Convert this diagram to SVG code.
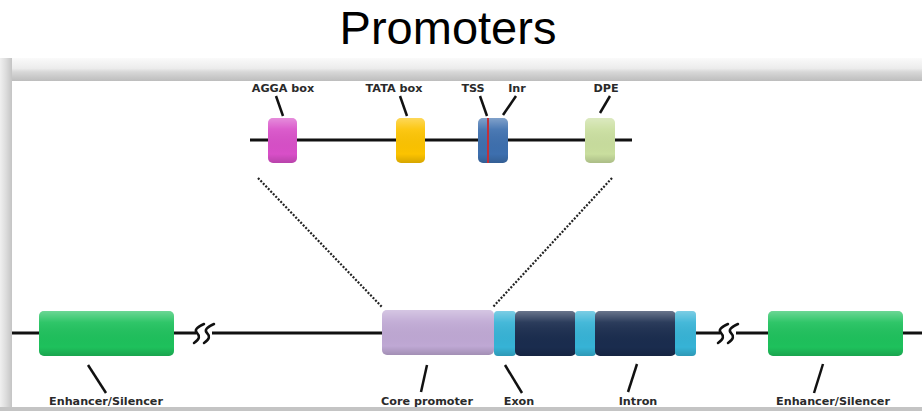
<svg xmlns="http://www.w3.org/2000/svg" width="922" height="411" viewBox="0 0 922 411">
<defs>
<linearGradient id="topband" x1="0" y1="0" x2="0" y2="1">
<stop offset="0" stop-color="#fafafa"/><stop offset="0.45" stop-color="#ececec"/><stop offset="0.6" stop-color="#d8d8d8"/><stop offset="1" stop-color="#bdbdbd"/>
</linearGradient>
<linearGradient id="leftband" x1="0" y1="0" x2="1" y2="0">
<stop offset="0" stop-color="#f0f0f0"/><stop offset="0.5" stop-color="#dcdcdc"/><stop offset="1" stop-color="#c4c4c4"/>
</linearGradient>
<linearGradient id="gloss" x1="0" y1="0" x2="0" y2="1">
<stop offset="0" stop-color="#fff" stop-opacity="0.35"/><stop offset="0.25" stop-color="#fff" stop-opacity="0.08"/><stop offset="0.8" stop-color="#000" stop-opacity="0"/><stop offset="1" stop-color="#000" stop-opacity="0.15"/>
</linearGradient>
<style>
.lbl{font-family:"DejaVu Sans",sans-serif;font-weight:bold;font-size:11.2px;fill:#2a2a2a;text-anchor:middle}
.ln{stroke:#111;stroke-width:3;fill:none}
.lead{stroke:#111;stroke-width:2.5;fill:none}
.brk{stroke:#111;stroke-width:2.5;fill:none;stroke-linecap:round}
.dot{stroke:#222;stroke-width:2.2;stroke-dasharray:2 1.6;fill:none}
.gl{fill:url(#gloss)}
</style>
</defs>
<rect width="922" height="411" fill="#fff"/>
<text x="448" y="44" font-family="Liberation Sans, Arial, sans-serif" font-size="47" text-anchor="middle" fill="#000">Promoters</text>
<g id="frame">
<rect x="0" y="58" width="922" height="23" fill="url(#topband)"/>
<rect x="0" y="58" width="12" height="353" fill="url(#leftband)"/>
<rect x="12" y="81" width="910" height="326" fill="#fff"/>
<rect x="0" y="407" width="922" height="4" fill="#c4c4c4"/>
</g>
<g id="connectors">
<line class="ln" x1="250" y1="140" x2="632" y2="140"/>
<line class="ln" x1="12" y1="333" x2="40" y2="333"/>
<line class="ln" x1="174" y1="333" x2="196" y2="333"/>
<line class="ln" x1="212" y1="333" x2="382" y2="333"/>
<line class="ln" x1="696" y1="333" x2="720" y2="333"/>
<line class="ln" x1="736" y1="333" x2="768" y2="333"/>
<line class="ln" x1="903" y1="333" x2="922" y2="333"/>
<path class="brk" d="M204,324 C197,327 194,330 197,333 C200,336 200,339 194,343 M214,324 C207,327 204,330 207,333 C210,336 210,339 204,343"/>
<path class="brk" d="M728,324 C721,327 718,330 721,333 C724,336 724,339 718,343 M738,324 C731,327 728,330 731,333 C734,336 734,339 728,343"/>
<line class="dot" x1="258" y1="178" x2="382" y2="307"/>
<line class="dot" x1="612" y1="178" x2="493" y2="307"/>
<line class="lead" x1="276" y1="96" x2="283" y2="116"/>
<line class="lead" x1="400" y1="96" x2="407" y2="116"/>
<line class="lead" x1="480" y1="96" x2="487" y2="116"/>
<line class="lead" x1="516" y1="96" x2="503" y2="115"/>
<line class="lead" x1="610" y1="96" x2="600" y2="113"/>
<line class="lead" x1="88" y1="365" x2="106" y2="393"/>
<line class="lead" x1="427" y1="365" x2="421" y2="392"/>
<line class="lead" x1="505" y1="365" x2="522" y2="393"/>
<line class="lead" x1="637" y1="364" x2="628" y2="392"/>
<line class="lead" x1="823" y1="364" x2="814" y2="393"/>
</g>
<g id="agga">
<rect x="268" y="118" width="29" height="45" rx="5" fill="#d84fc8"/><rect class="gl" x="268" y="118" width="29" height="45" rx="5"/>
<text class="lbl" x="283" y="92">AGGA box</text>
</g>
<g id="tata">
<rect x="396" y="118" width="29" height="45" rx="5" fill="#fcc300"/><rect class="gl" x="396" y="118" width="29" height="45" rx="5"/>
<text class="lbl" x="394" y="92">TATA box</text>
</g>
<g id="tss-inr">
<rect x="478" y="118" width="30" height="45" rx="5" fill="#3d6fae"/><rect class="gl" x="478" y="118" width="30" height="45" rx="5"/>
<line x1="488" y1="118" x2="488" y2="163" stroke="#c0303a" stroke-width="2"/>
<text class="lbl" x="473" y="92">TSS</text>
<text class="lbl" x="517" y="92">Inr</text>
</g>
<g id="dpe">
<rect x="585" y="118" width="30" height="45" rx="5" fill="#c9de9e"/><rect class="gl" x="585" y="118" width="30" height="45" rx="5"/>
<text class="lbl" x="606" y="92">DPE</text>
</g>
<g id="enhancer-left">
<rect x="39" y="311" width="135" height="45" rx="5" fill="#1ec15c"/><rect class="gl" x="39" y="311" width="135" height="45" rx="5"/>
<text class="lbl" x="106" y="405">Enhancer/Silencer</text>
</g>
<g id="core-promoter">
<rect x="382" y="310" width="112" height="45" rx="5" fill="#bfa8d4"/><rect class="gl" x="382" y="310" width="112" height="45" rx="5"/>
<text class="lbl" x="427" y="405">Core promoter</text>
</g>
<g id="gene">
<rect x="494" y="311" width="22" height="45" rx="4" fill="#36b3d6"/><rect class="gl" x="494" y="311" width="22" height="45" rx="4"/>
<rect x="515" y="311" width="61" height="45" rx="5" fill="#1a2c4e"/><rect class="gl" x="515" y="311" width="61" height="45" rx="5"/>
<rect x="575" y="311" width="21" height="45" rx="4" fill="#36b3d6"/><rect class="gl" x="575" y="311" width="21" height="45" rx="4"/>
<rect x="595" y="311" width="81" height="45" rx="5" fill="#1a2c4e"/><rect class="gl" x="595" y="311" width="81" height="45" rx="5"/>
<rect x="675" y="311" width="21" height="45" rx="4" fill="#36b3d6"/><rect class="gl" x="675" y="311" width="21" height="45" rx="4"/>
<text class="lbl" x="519" y="405">Exon</text>
<text class="lbl" x="638" y="405">Intron</text>
</g>
<g id="enhancer-right">
<rect x="768" y="311" width="135" height="45" rx="5" fill="#1ec15c"/><rect class="gl" x="768" y="311" width="135" height="45" rx="5"/>
<text class="lbl" x="833" y="405">Enhancer/Silencer</text>
</g>
</svg>
